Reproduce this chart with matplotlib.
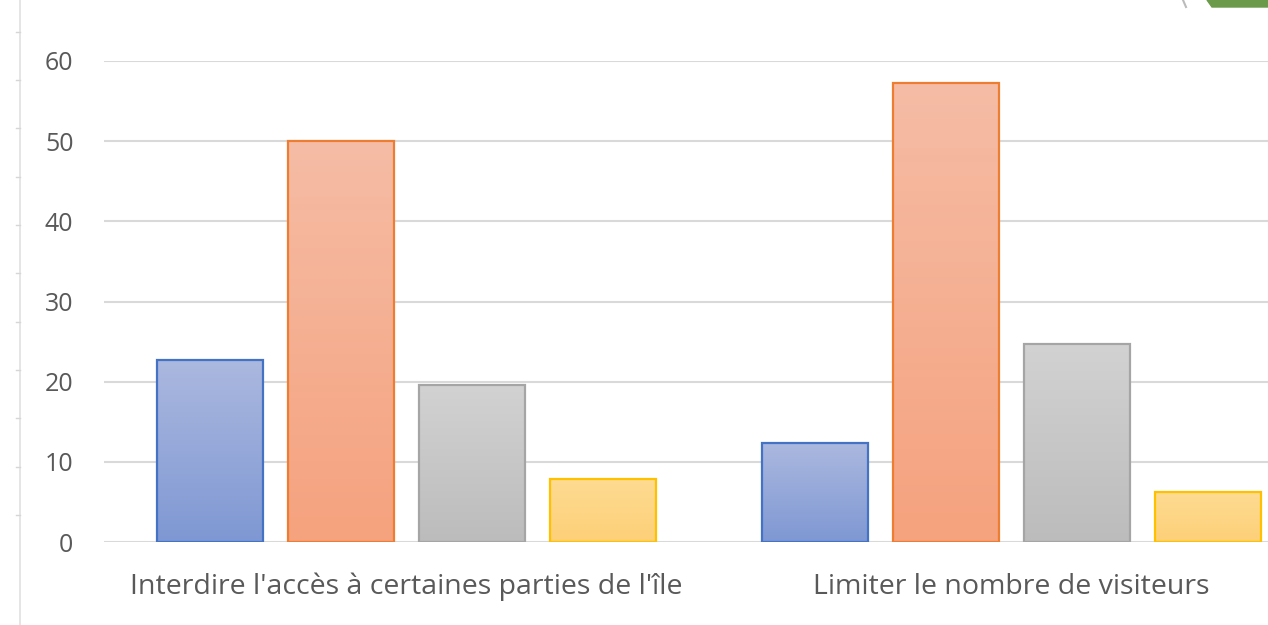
import matplotlib
matplotlib.use('Agg')
import matplotlib.pyplot as plt
import numpy as np
from matplotlib.colors import to_rgb
from matplotlib.patches import Polygon

categories = ["Interdire l'accès à certaines parties de l'île", "Limiter le nombre de visiteurs"]
serie1 = [22.7, 12.3]
serie2 = [50.0, 57.2]
serie3 = [19.6, 24.7]
serie4 = [7.9, 6.2]
yticks = [0, 10, 20, 30, 40, 50, 60]

series = [serie1, serie2, serie3, serie4]
# (top colour, bottom colour, edge)
styles = [('#abb8df', '#7f98d3', '#4472c4'),
          ('#f5bca5', '#f5a27e', '#ed7d31'),
          ('#d2d2d2', '#bcbcbc', '#a5a5a5'),
          ('#fedb92', '#fdd078', '#ffc000')]

plt.rcParams['font.family'] = ['Open Sans', 'DejaVu Sans']

fig = plt.figure(figsize=(12.68, 6.25), dpi=100)
ax = fig.add_axes([104/1268, 83/625, (1268-104)/1268, (542-61)/625])

x = np.arange(len(categories))
step = 0.2165
width = 0.175
for k, vals in enumerate(series):
    top, bot, edge = styles[k]
    grad = np.linspace(0, 1, 64)[:, None, None]
    img = (1 - grad) * np.array(to_rgb(top)) + grad * np.array(to_rgb(bot))
    bars = ax.bar(x + (k - 1.5) * step, vals, width, color='none',
                  edgecolor=edge, linewidth=1.6, zorder=3)
    for b in bars:
        x0, y0 = b.get_x(), b.get_y()
        im = ax.imshow(img, extent=[x0, x0 + b.get_width(), y0, y0 + b.get_height()],
                       aspect='auto', zorder=2, origin='upper')
        im.set_clip_path(b)

ax.set_xlim(-0.5, 1.5 - (1314 - 1268) / 605)
ax.set_ylim(0, 60)
ax.set_yticks(yticks)
ax.set_xticks(x)
ax.set_xticklabels(categories)
ax.grid(axis='y', color='#d9d9d9', linewidth=1.5, zorder=0)
ax.set_axisbelow(True)
for s in ax.spines.values():
    s.set_visible(False)
ax.tick_params(axis='both', length=0, colors='#595959')
ax.tick_params(axis='y', pad=22, labelsize=18)
ax.tick_params(axis='x', pad=22, labelsize=20.5)

# decoration: ruler on the left and corner shape
fig.add_artist(plt.Line2D([20/1268, 20/1268], [0, 1], color='#e0e0e0', lw=1.2))
for ty in [32, 80, 128, 177, 225, 273, 322, 370, 418, 467, 515]:
    fig.add_artist(plt.Line2D([16/1268, 20/1268], [1 - ty/625] * 2, color='#d6d6d6', lw=1))
fig.add_artist(Polygon([[1207/1268, 1], [1212/1268, 1 - 7/625], [1, 1 - 7/625], [1, 1]],
                       closed=True, color='#6a9a4a', transform=fig.transFigure))
fig.add_artist(plt.Line2D([1183/1268, 1186/1268], [1, 1 - 7/625], color='#bbbbbb', lw=1.5))

fig.savefig('out.png', dpi=100)
